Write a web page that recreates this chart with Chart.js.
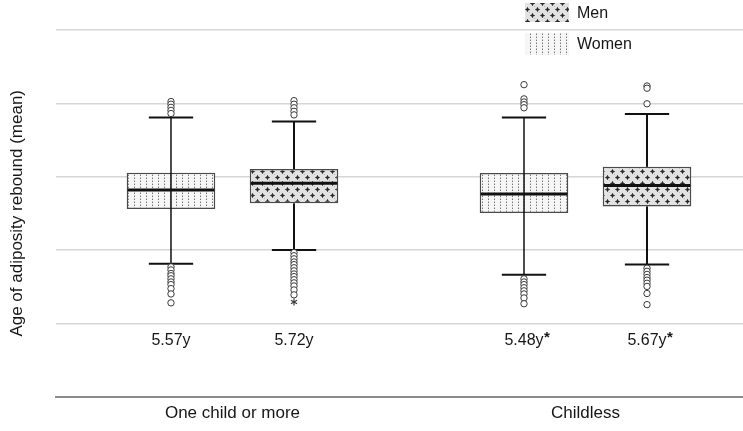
<!DOCTYPE html>
<html>
<head>
<meta charset="utf-8">
<script src="https://cdn.jsdelivr.net/npm/chart.js@4"></script>
<style>
  html, body { margin: 0; padding: 0; background: #fff; overflow: hidden; }
  #wrap { width: 762px; height: 431px; }
</style>
</head>
<body>
<div id="wrap"><canvas id="chart" width="762" height="431"></canvas></div>
<script>
// ── Adiposity rebound box plot ───────────────────────────────────────────────

const groups = ['One child or more', 'Childless'];
const yGrid = [0.92, 2.57, 4.22, 5.87, 7.52, 9.17];

// Women
const womenMean = [5.57, 5.48];
const womenQ1 = [5.14, 5.05];
const womenQ3 = [5.96, 5.95];
const womenLow = [3.91, 3.66];
const womenHigh = [7.20, 7.20];
const womenOutliers = [
    [7.56, 7.50, 7.43, 7.36, 7.29, 3.84, 3.77, 3.69, 3.64, 3.57, 3.50, 3.44, 3.35, 3.23, 3.03],
    [7.94, 7.62, 7.55, 7.49, 7.42, 3.57, 3.50, 3.44, 3.37, 3.30, 3.23, 3.14, 3.01]
];
const womenExtremes = [[], []];

// Men
const menMean = [5.72, 5.67];
const menQ1 = [5.27, 5.20];
const menQ3 = [6.04, 6.09];
const menLow = [4.22, 3.89];
const menHigh = [7.11, 7.28];
const menOutliers = [
    [7.58, 7.50, 7.42, 7.34, 7.26, 4.16, 4.09, 4.02, 3.95, 3.89, 3.82, 3.75, 3.68, 3.62, 3.55, 3.48, 3.41, 3.32, 3.21],
    [7.91, 7.86, 7.51, 3.81, 3.74, 3.67, 3.60, 3.54, 3.47, 3.40, 3.24, 2.99]
];
const menExtremes = [[3.05], []];

// difference childless vs parents marked with a star
const significant = [false, true];

const FONT = '"Liberation Sans", Arial, Helvetica, sans-serif';
const INK = '#161616';

// fill patterns
function makeTile(w, h, draw) {
    const c = document.createElement('canvas');
    c.width = w;
    c.height = h;
    const g = c.getContext('2d');
    draw(g);
    return document.getElementById('chart').getContext('2d').createPattern(c, 'repeat');
}

const dotFill = makeTile(6, 3, g => {
    g.fillStyle = '#f6f6f6';
    g.fillRect(0, 0, 6, 3);
    g.fillStyle = '#727272';
    g.fillRect(2, 1, 1, 1);
    g.fillStyle = '#bdbdbd';
    g.fillRect(2, 0, 1, 1);
});

const crossFill = makeTile(10, 12, g => {
    g.fillStyle = '#e2e2e2';
    g.fillRect(0, 0, 10, 12);
    const cross = (cx, cy) => {
        g.fillStyle = '#5a5a5a';
        g.fillRect(cx - 2, cy, 5, 1);
        g.fillRect(cx, cy - 2, 1, 5);
        g.fillStyle = '#2a2a2a';
        g.fillRect(cx - 1, cy - 1, 3, 3);
        g.fillStyle = '#8a8a8a';
        g.fillRect(cx - 1, cy - 1, 1, 1);
        g.fillRect(cx + 1, cy - 1, 1, 1);
        g.fillRect(cx - 1, cy + 1, 1, 1);
        g.fillRect(cx + 1, cy + 1, 1, 1);
    };
    cross(2, 3);
    cross(7, 9);
    // faint lattice between the crosses
    g.fillStyle = '#b8b8b8';
    g.fillRect(4, 6, 1, 1);
    g.fillRect(9, 0, 1, 1);
});

const boxStats = [
    { mid: womenMean, low: womenLow, high: womenHigh, out: womenOutliers, ext: womenExtremes, stemThrough: true, stemWidth: 1.5 },
    { mid: menMean, low: menLow, high: menHigh, out: menOutliers, ext: menExtremes, stemThrough: false, stemWidth: 2 }
];

function line(ctx, x1, y1, x2, y2) {
    ctx.beginPath();
    ctx.moveTo(x1, y1);
    ctx.lineTo(x2, y2);
    ctx.stroke();
}

const boxPlot = {
    id: 'boxPlot',
    afterDatasetsDraw(chart) {
        const { ctx, scales: { y } } = chart;
        ctx.save();
        boxStats.forEach((s, d) => {
            chart.getDatasetMeta(d).data.forEach((bar, j) => {
                const x = bar.x;
                const half = bar.width / 2;
                const top = Math.min(bar.y, bar.base);
                const bot = Math.max(bar.y, bar.base);
                const yHigh = y.getPixelForValue(s.high[j]);
                const yLow = y.getPixelForValue(s.low[j]);

                ctx.strokeStyle = '#111';
                ctx.lineWidth = s.stemWidth;
                if (s.stemThrough) {
                    line(ctx, x, yHigh, x, yLow);
                } else {
                    line(ctx, x, yHigh, x, top);
                    line(ctx, x, bot, x, yLow);
                }
                ctx.lineWidth = 2;
                line(ctx, x - half / 2, yHigh, x + half / 2, yHigh);
                line(ctx, x - half / 2, yLow, x + half / 2, yLow);

                // median bar
                ctx.lineWidth = 3;
                const ym = y.getPixelForValue(s.mid[j]);
                line(ctx, x - half + 1, ym, x + half - 1, ym);

                // outliers
                ctx.lineWidth = 1;
                ctx.strokeStyle = '#3a3a3a';
                s.out[j].forEach(v => {
                    ctx.beginPath();
                    ctx.arc(x, y.getPixelForValue(v), 3.2, 0, Math.PI * 2);
                    ctx.fillStyle = '#fff';
                    ctx.fill();
                    ctx.stroke();
                });
                s.ext[j].forEach(v => {
                    const py = y.getPixelForValue(v);
                    ctx.lineWidth = 1.2;
                    for (let a = 0; a < 3; a++) {
                        const t = a * Math.PI / 3 + Math.PI / 2;
                        line(ctx, x - 3.5 * Math.cos(t), py - 3.5 * Math.sin(t), x + 3.5 * Math.cos(t), py + 3.5 * Math.sin(t));
                    }
                });
            });
        });
        ctx.restore();
    },
    afterDraw(chart) {
        const { ctx, chartArea } = chart;
        ctx.save();
        ctx.fillStyle = INK;
        ctx.textBaseline = 'middle';

        // mean labels under each box
        const labelY = chartArea.bottom - 56;
        boxStats.forEach((s, d) => {
            chart.getDatasetMeta(d).data.forEach((bar, j) => {
                ctx.font = `16px ${FONT}`;
                ctx.textAlign = 'center';
                const txt = s.mid[j].toFixed(2) + 'y';
                ctx.fillText(txt, bar.x, labelY);
                if (significant[j]) {
                    const w = ctx.measureText(txt).width;
                    ctx.font = `bold 15px ${FONT}`;
                    ctx.textAlign = 'left';
                    ctx.fillText('*', bar.x + w / 2 + 0.5, labelY - 3);
                }
            });
        });

        // legend
        const items = [
            { label: 'Men', fill: crossFill, y: 3, h: 19 },
            { label: 'Women', fill: dotFill, y: 33, h: 22 }
        ];
        ctx.font = `16px ${FONT}`;
        ctx.textAlign = 'left';
        items.forEach(it => {
            ctx.fillStyle = it.fill;
            ctx.fillRect(525, it.y, 44, it.h);
            ctx.fillStyle = INK;
            ctx.fillText(it.label, 577, it.y + it.h / 2 + 1);
        });
        ctx.restore();
    }
};

new Chart(document.getElementById('chart'), {
    type: 'bar',
    data: {
        labels: groups,
        datasets: [
            {
                label: 'Women',
                data: womenQ1.map((q, i) => [q, womenQ3[i]]),
                backgroundColor: dotFill,
                borderColor: '#4a4a4a',
                borderWidth: 1.5,
                borderSkipped: false
            },
            {
                label: 'Men',
                data: menQ1.map((q, i) => [q, menQ3[i]]),
                backgroundColor: crossFill,
                borderColor: '#4a4a4a',
                borderWidth: 1.5,
                borderSkipped: false
            }
        ]
    },
    options: {
        responsive: false,
        animation: false,
        devicePixelRatio: 1,
        categoryPercentage: 0.697,
        barPercentage: 0.72,
        layout: { padding: { top: 30, bottom: 0, left: 0, right: 0 } },
        scales: {
            x: {
                grid: { display: false, drawTicks: false },
                border: { color: '#8c8c8c', width: 2 },
                ticks: { color: INK, padding: 7, font: { family: FONT, size: 17 } }
            },
            y: {
                min: yGrid[0],
                max: yGrid[yGrid.length - 1],
                afterBuildTicks: s => { s.ticks = yGrid.map(v => ({ value: v })); },
                afterFit: s => { s.width = 56; },
                ticks: { display: false },
                grid: { color: '#d6d6d6', lineWidth: 1.5, drawTicks: false },
                border: { display: false },
                title: {
                    display: true,
                    text: 'Age of adiposity rebound (mean)',
                    color: INK,
                    padding: { top: 7, bottom: 0 },
                    font: { family: FONT, size: 17 }
                }
            }
        },
        plugins: {
            legend: { display: false },
            tooltip: { enabled: false }
        }
    },
    plugins: [boxPlot]
});
</script>
</body>
</html>
